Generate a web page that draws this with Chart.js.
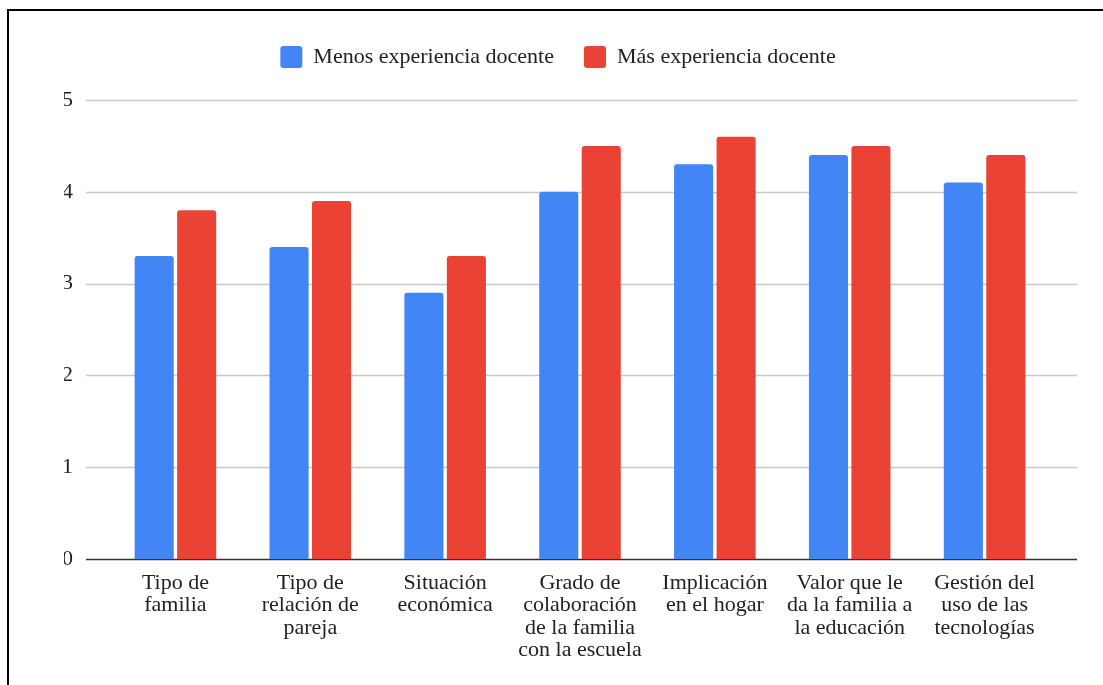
<!DOCTYPE html>
<html>
<head>
<meta charset="utf-8">
<script src="https://cdn.jsdelivr.net/npm/chart.js@4.4.0/dist/chart.umd.min.js"></script>
<style>
  body { margin: 0; background: #fff; }
  #wrap { position: relative; width: 1103px; height: 685px; }
  #marco { position: absolute; left: 7px; top: 9px; right: -5px; bottom: -5px;
           border-top: 2px solid #000; border-left: 2px solid #000; pointer-events: none; }
  canvas { position: absolute; left: 0; top: 0; }
</style>
</head>
<body>
<div id="wrap">
  <canvas id="grafica" width="1103" height="685"></canvas>
  <div id="marco"></div>
</div>
<script>
const categorias = [
  ['Tipo de', 'familia'],
  ['Tipo de', 'relación de', 'pareja'],
  ['Situación', 'económica'],
  ['Grado de', 'colaboración', 'de la familia', 'con la escuela'],
  ['Implicación', 'en el hogar'],
  ['Valor que le', 'da la familia a', 'la educación'],
  ['Gestión del', 'uso de las', 'tecnologías']
];
const menosExperiencia = [3.3, 3.4, 2.9, 4.0, 4.3, 4.4, 4.1];
const masExperiencia = [3.8, 3.9, 3.3, 4.5, 4.6, 4.5, 4.4];
const ticksY = [0, 1, 2, 3, 4, 5];

const familia = '"Liberation Serif", "Times New Roman", serif';
const fuente = { family: familia, size: 22 };

// lineas horizontales algo mas anchas que el area de barras
const rejilla = {
  id: 'rejilla',
  beforeDatasetsDraw(chart) {
    const { ctx, chartArea, scales } = chart;
    ticksY.forEach(v => {
      const y = Math.round(scales.y.getPixelForValue(v)) + 0.5;
      ctx.save();
      ctx.strokeStyle = v === 0 ? '#333' : '#c8c8c8';
      ctx.lineWidth = 1.5;
      ctx.beginPath();
      ctx.moveTo(chartArea.left - 22, y);
      ctx.lineTo(chartArea.right + 25, y);
      ctx.stroke();
      ctx.restore();
    });
  }
};

// espacio extra bajo la leyenda
const margenLeyenda = {
  id: 'margenLeyenda',
  beforeInit(chart) {
    const fitOriginal = chart.legend.fit;
    chart.legend.fit = function () {
      fitOriginal.bind(chart.legend)();
      this.height += 22;
    };
  }
};

const ctx = document.getElementById('grafica').getContext('2d');
new Chart(ctx, {
  type: 'bar',
  data: {
    labels: categorias,
    datasets: [{
      label: 'Menos experiencia docente',
      data: menosExperiencia,
      backgroundColor: '#4285f4',
      borderRadius: 3,
      borderSkipped: 'bottom'
    }, {
      label: 'Más experiencia docente',
      data: masExperiencia,
      backgroundColor: '#ea4335',
      borderRadius: 3,
      borderSkipped: 'bottom'
    }]
  },
  options: {
    responsive: false,
    animation: false,
    layout: { padding: { top: 16, right: 51, bottom: 0, left: 64 } },
    datasets: { bar: { categoryPercentage: 0.63, barPercentage: 0.92 } },
    plugins: {
      tooltip: { enabled: false },
      legend: {
        position: 'top',
        labels: {
          font: fuente,
          color: '#222',
          boxWidth: 22,
          boxHeight: 22,
          useBorderRadius: true,
          borderRadius: 3,
          padding: 30
        }
      }
    },
    scales: {
      x: {
        grid: { display: false },
        border: { display: false },
        ticks: { font: { family: familia, size: 22, lineHeight: 1.02 }, color: '#222', padding: 5, maxRotation: 0, autoSkip: false },
        afterFit(scale) { scale.height = 126; }
      },
      y: {
        min: 0,
        max: 5,
        grid: { display: false },
        border: { display: false },
        ticks: { font: fuente, color: '#222', stepSize: 1, padding: 27 },
        afterFit(scale) { scale.width = 44; }
      }
    }
  },
  plugins: [rejilla, margenLeyenda]
});
</script>
</body>
</html>
